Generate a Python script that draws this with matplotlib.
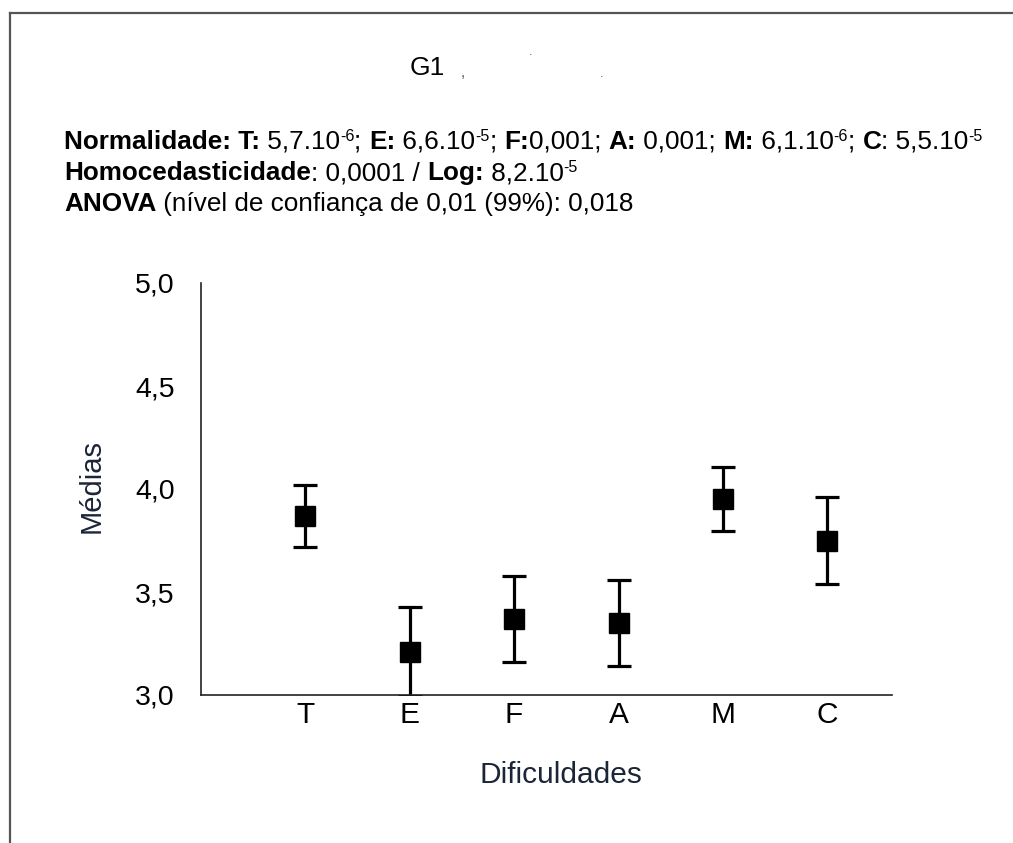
import matplotlib
matplotlib.use("Agg")
import matplotlib.pyplot as plt
from matplotlib.lines import Line2D

# -----------------------------
# Dados
# -----------------------------
categorias = ["T", "E", "F", "A", "M", "C"]
medias = [3.87, 3.21, 3.37, 3.35, 3.95, 3.75]
erros = [0.15, 0.215, 0.21, 0.21, 0.155, 0.21]
y_ticks = [3.0, 3.5, 4.0, 4.5, 5.0]
y_labels = ["3,0", "3,5", "4,0", "4,5", "5,0"]

linha1 = [("Normalidade: T:", "b"), (" 5,7.10", "n"), ("-6", "s"), ("; ", "n"),
          ("E:", "b"), (" 6,6.10", "n"), ("-5", "s"), ("; ", "n"),
          ("F:", "b"), ("0,001; ", "n"), ("A:", "b"), (" 0,001; ", "n"),
          ("M:", "b"), (" 6,1.10", "n"), ("-6", "s"), ("; ", "n"),
          ("C", "b"), (": 5,5.10", "n"), ("-5", "s")]
linha2 = [("Homocedasticidade", "b"), (": 0,0001 / ", "n"), ("Log:", "b"),
          (" 8,2.10", "n"), ("-5", "s")]
linha3 = [("ANOVA", "b"), (" (nível de confiança de 0,01 (99%): 0,018", "n")]

plt.rcParams['font.family'] = ['Liberation Sans', 'DejaVu Sans']

W, H = 1013, 843
fig = plt.figure(figsize=(W / 100, H / 100), dpi=100)
renderer = fig.canvas.get_renderer()

# -----------------------------
# Grafico
# -----------------------------
ax = fig.add_axes([201 / W, 1 - 695 / H, 691 / W, 412 / H])
x = list(range(1, len(categorias) + 1))
ax.errorbar(x, medias, yerr=erros, fmt='s', color='black', ms=14,
            elinewidth=2.3, capsize=8.5, capthick=2.3)
ax.set_xlim(0, 6.62)
ax.set_ylim(3.0, 5.0)
ax.set_xticks(x)
ax.set_xticklabels(categorias, fontsize=21.5)
ax.set_yticks(y_ticks)
ax.set_yticklabels(y_labels, fontsize=20.5)
ax.tick_params(axis='y', length=0, pad=19)
ax.tick_params(axis='x', length=0, pad=4)
for s in ['top', 'right']:
    ax.spines[s].set_visible(False)
for s in ['left', 'bottom']:
    ax.spines[s].set_linewidth(1.2)
    ax.spines[s].set_color('#222222')

fig.text(91.5 / W, 1 - 486 / H, "Médias", rotation=90, fontsize=21,
         ha='center', va='center', color='#1c2538')
fig.text(561 / W, 1 - 783 / H, "Dificuldades", fontsize=21.5,
         ha='center', va='baseline', color='#1c2538')

# Titulo
fig.text(427 / W, 1 - 75 / H, "G1", fontsize=19, ha='center', va='baseline')
fig.text(463 / W, 1 - 77 / H, ",", fontsize=11, ha='center', va='baseline', color='#555555')
fig.text(531 / W, 1 - 55 / H, ".", fontsize=9, ha='center', va='baseline', color='#555555')
fig.text(602 / W, 1 - 77 / H, ".", fontsize=9, ha='center', va='baseline', color='#555555')


# -----------------------------
# Texto com negrito e expoentes
# -----------------------------
def largura(txt, **kw):
    t1 = fig.text(0, 0, "I" + txt + "I", **kw)
    t2 = fig.text(0, 0, "II", **kw)
    w = t1.get_window_extent(renderer).width - t2.get_window_extent(renderer).width
    t1.remove()
    t2.remove()
    return w


def escrever(x_px, base_px, runs, size):
    xx = x_px
    for txt, kind in runs:
        if kind == "s":
            kw = dict(fontsize=size * 0.62)
            yy = base_px - size * 0.4
        elif kind == "b":
            kw = dict(fontsize=size, fontweight='bold')
            yy = base_px
        else:
            kw = dict(fontsize=size)
            yy = base_px
        fig.text(xx / W, 1 - yy / H, txt, va='baseline', ha='left', **kw)
        xx += largura(txt, **kw)


escrever(64, 149, linha1, 18.8)
escrever(64, 180, linha2, 18.8)
escrever(64, 211, linha3, 18.8)

# moldura
fig.add_artist(Line2D([9.5 / W, 1], [1 - 13 / H] * 2, transform=fig.transFigure,
                      color='#555555', lw=1.6))
fig.add_artist(Line2D([9.5 / W] * 2, [0, 1 - 13 / H], transform=fig.transFigure,
                      color='#555555', lw=1.6))

fig.savefig("out.png", dpi=100)
